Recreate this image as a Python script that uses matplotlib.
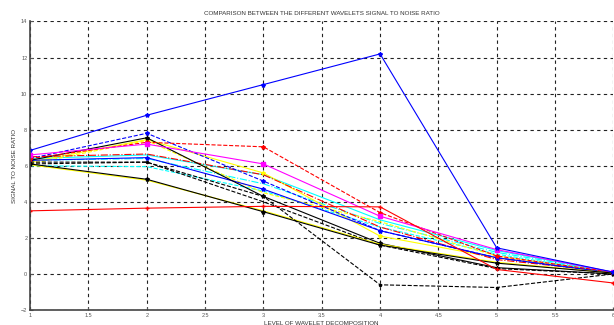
import matplotlib
matplotlib.use('Agg')
import matplotlib.pyplot as plt
import numpy as np

plt.rcParams['font.family'] = ['Liberation Sans', 'DejaVu Sans']

levels = [1, 2, 3, 4, 5, 6]

# SNR per decomposition level, one list per wavelet curve
snr_blue_star = [6.85, 8.8, 10.5, 12.2, 1.45, 0.1]
snr_red_low = [3.5, 3.65, 3.75, 3.72, 0.25, -0.5]
snr_black_low = [6.1, 5.25, 3.45, 1.6, 0.6, 0.05]
snr_yellow_low = [6.05, 5.2, 3.5, 1.65, 0.65, 0.05]
snr_black_dot = [6.1, 6.2, 4.3, -0.6, -0.75, 0.0]
snr_red_dash = [6.4, 7.3, 7.05, 3.4, 1.0, 0.1]
snr_red_mid = [6.5, 6.65, 5.5, 2.6, 0.8, 0.1]
snr_magenta = [6.6, 7.2, 6.1, 3.2, 1.35, 0.1]
snr_blue_dash = [6.4, 7.8, 5.15, 2.4, 0.9, 0.05]
snr_black_star = [6.3, 7.55, 4.3, 1.7, 0.35, 0.0]
snr_yellow = [6.2, 7.45, 5.6, 2.1, 0.9, 0.05]
snr_yellow_dash = [6.1, 7.4, 4.5, 2.9, 1.0, 0.05]
snr_cyan = [6.4, 6.6, 5.5, 3.0, 1.3, 0.1]
snr_cyan_dash = [6.0, 5.95, 4.6, 2.6, 1.1, 0.05]
snr_cyan_dashdot = [6.3, 6.4, 5.0, 2.8, 1.2, 0.1]
snr_blue_mid = [6.3, 6.45, 4.7, 2.4, 0.9, 0.05]
snr_black_dash = [6.2, 6.2, 4.0, 1.6, 0.3, 0.0]

curves = [
    (snr_cyan_dash, '#00ffff', '--', ''),
    (snr_cyan_dashdot, '#00ffff', '-.', ''),
    (snr_cyan, '#00ffff', '-', ''),
    (snr_yellow_dash, '#ffff00', '--', ''),
    (snr_yellow, '#ffff00', '-', '*'),
    (snr_red_mid, '#ff0000', '-.', ''),
    (snr_blue_mid, '#0000ff', '-', '*'),
    (snr_black_dash, 'k', '--', ''),
    (snr_black_star, 'k', '-', '*'),
    (snr_blue_dash, '#0000ff', '--', '*'),
    (snr_red_dash, '#ff0000', '--', '*'),
    (snr_magenta, '#ff00ff', '-', 's'),
    (snr_yellow_low, '#ffff00', '-', ''),
    (snr_black_low, 'k', '-', '*'),
    (snr_black_dot, 'k', '--', '.'),
    (snr_red_low, '#ff0000', '-', '+'),
    (snr_blue_star, '#0000ff', '-', '*'),
]

fig = plt.figure(figsize=(6.14, 3.25), dpi=100)
ax = fig.add_axes([0.049, 0.046, 0.95, 0.888])

for vals, col, ls, mk in curves:
    ax.plot(levels, vals, color=col, linestyle=ls, marker=mk, markersize=3,
            linewidth=0.8)

ax.set_xlim(1, 6)
ax.set_ylim(-2, 14)
ax.set_xticks(np.arange(1, 6.01, 0.5))
ax.set_xticklabels(['1', '1.5', '2', '2.5', '3', '3.5', '4', '4.5', '5', '5.5', '6'])
ax.set_yticks(np.arange(-2, 14.01, 2))
ax.grid(True, color='#222222', linestyle=(0, (3, 3)), linewidth=0.8)
ax.tick_params(labelsize=4, colors='#555555', direction='in', length=2, pad=2)
for side in ['top', 'right']:
    ax.spines[side].set_visible(False)
for side in ['left', 'bottom']:
    ax.spines[side].set_color('#444444')
    ax.spines[side].set_linewidth(1.2)

ax.set_title('COMPARISON BETWEEN THE DIFFERENT WAVELETS SIGNAL TO NOISE RATIO',
             fontsize=4.5, color='#333333', pad=5)
ax.set_ylabel('SIGNAL TO NOISE RATIO', fontsize=4.5, color='#333333', labelpad=3)
ax.set_xlabel('LEVEL OF WAVELET DECOMPOSITION', fontsize=4.5, color='#333333', labelpad=2)

fig.savefig('out.png', dpi=100)
